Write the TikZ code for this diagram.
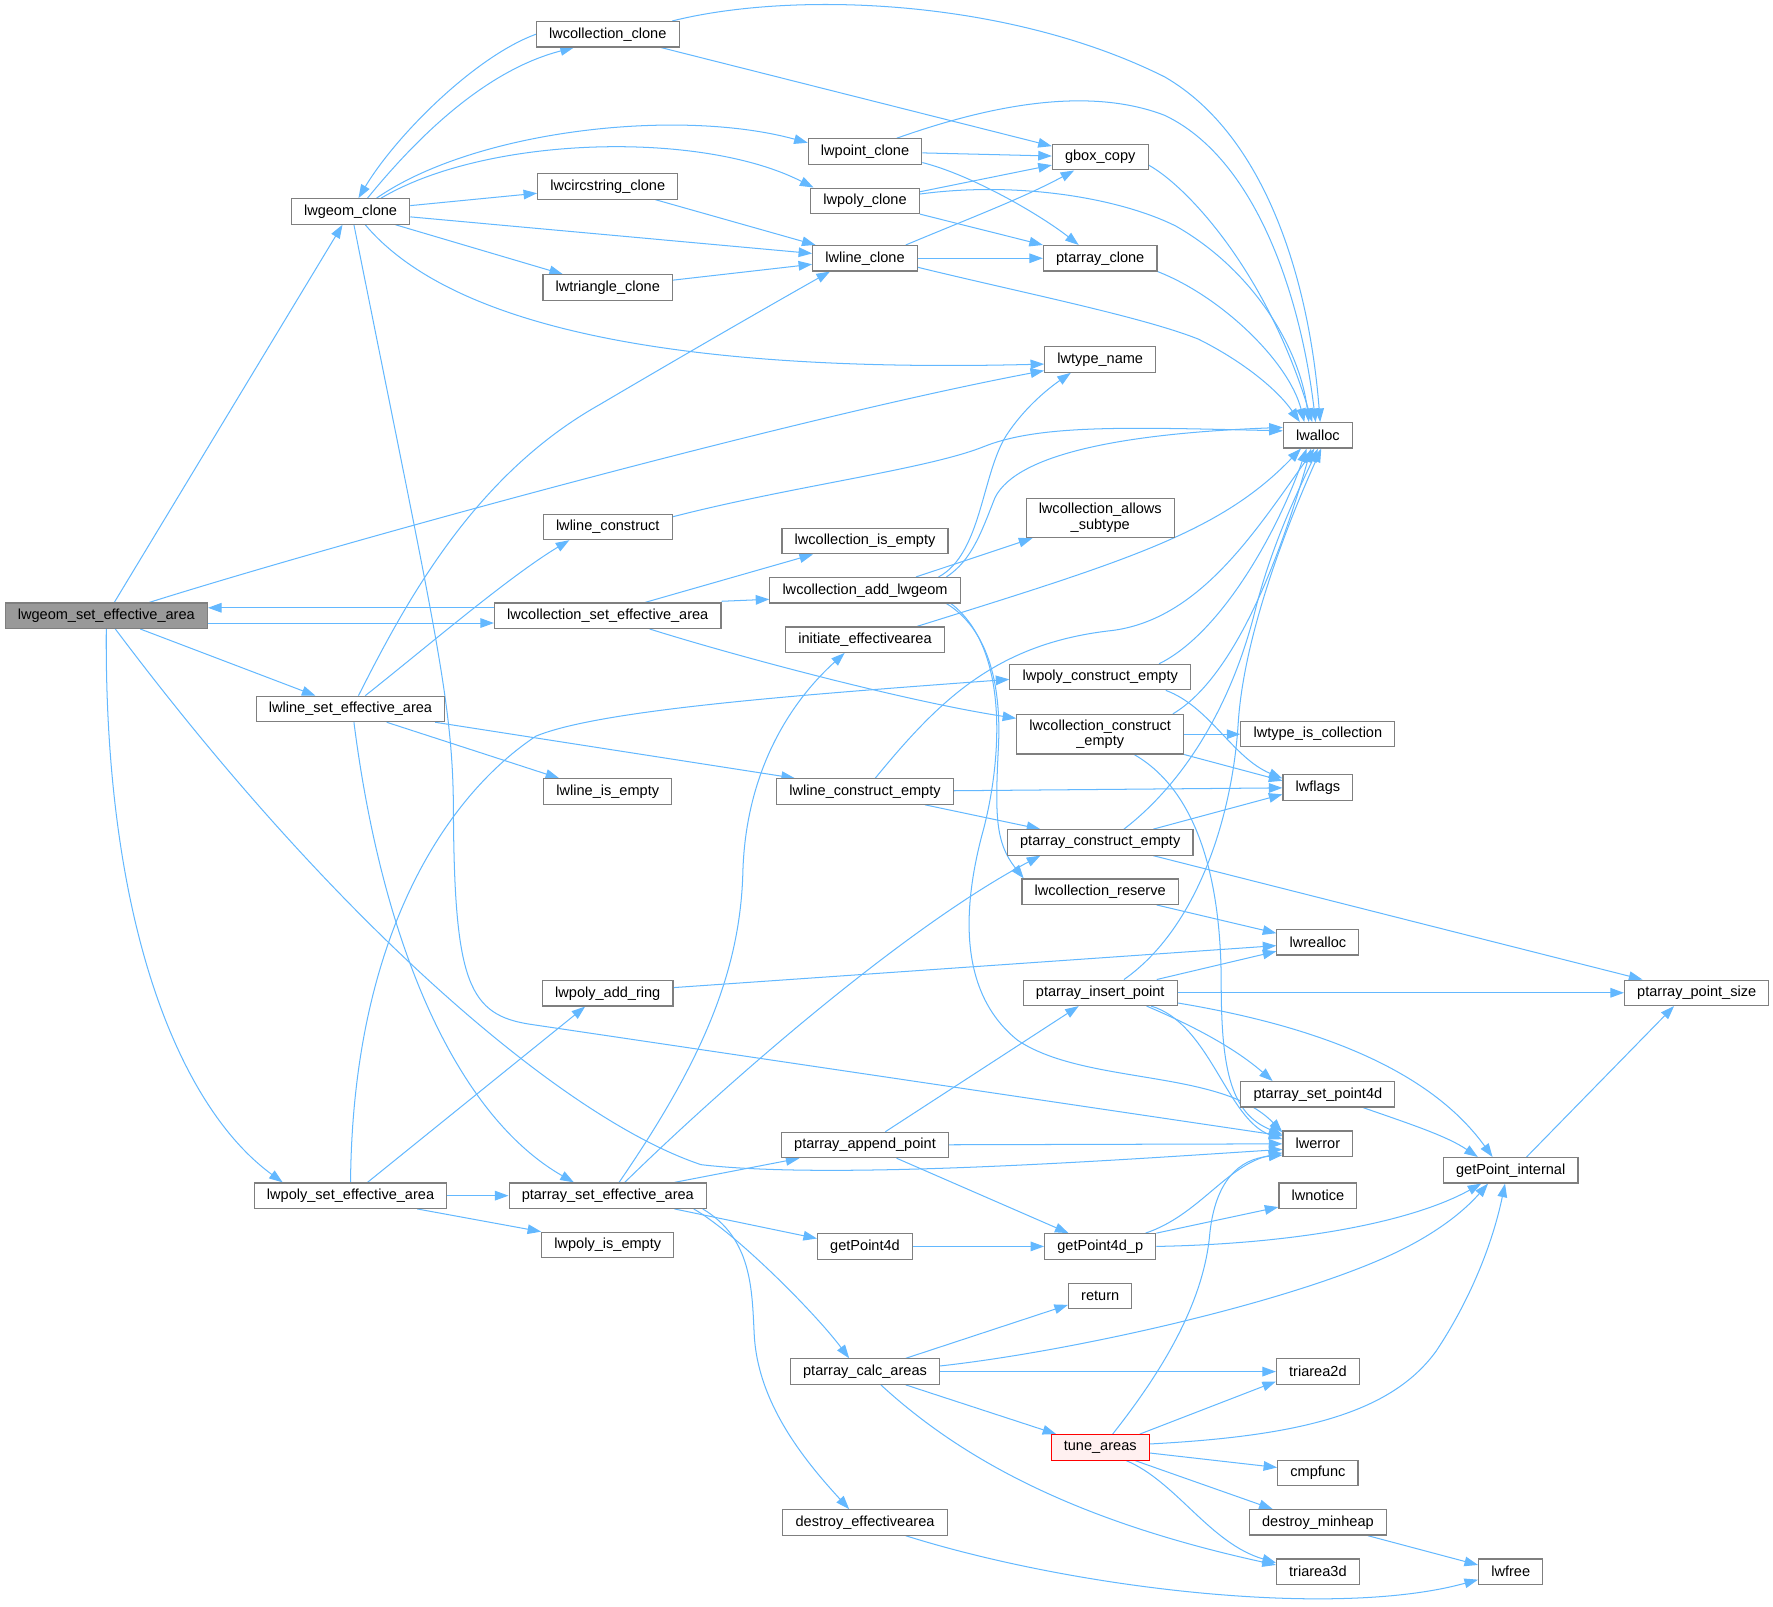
\documentclass[tikz,border=0pt]{standalone}
\usepackage{fontspec}
\setmainfont{Liberation Sans}
\usepackage{xcolor}
\definecolor{cEdge}{HTML}{63B8FF}
\definecolor{cFrame}{HTML}{7F7F7F}
\definecolor{cRoot}{HTML}{999999}
\definecolor{cHot}{HTML}{FF0000}
\definecolor{cHotFill}{HTML}{FFF0F0}
\usepackage{tikz}
\usetikzlibrary{arrows.meta,backgrounds}
\tikzset{
  node-fn/.style={draw=cFrame,line width=1pt,fill=white,inner xsep=11.2pt,inner ysep=4.5pt,
    minimum height=22.5pt,align=center,font=\fontsize{12.87}{14}\selectfont},
  node-root/.style={fill=cRoot},
  % the function that is currently expanded further elsewhere
  node-hot/.style={draw=cHot,fill=cHotFill},
  arrow/.style={-{Stealth[length=12pt,width=8.5pt,inset=0pt]},line width=0.9pt,draw=cEdge},
}

\begin{document}
\begin{tikzpicture}[x=1pt,y=-1pt]
  \useasboundingbox (0,0) rectangle (1568,1421);
  \node[node-fn,node-root] (geomSet) at (94,544.5) {lwgeom\_set\_effective\_area};
  \foreach \name/\y/\txt in {geomClone/187/lwgeom\_clone,
      lineSet/627/lwline\_set\_effective\_area, polySet/1057.4/lwpoly\_set\_effective\_area}
    \node[node-fn] (\name) at (310,\y) {\txt};
  \foreach \name/\y/\txt in {collClone/30.3/lwcollection\_clone, circClone/164.8/lwcircstring\_clone,
      triClone/254.3/lwtriangle\_clone, lineCons/466/lwline\_construct,
      collSet/544.5/lwcollection\_set\_effective\_area, lineEmpty/700/lwline\_is\_empty,
      polyRing/878.4/lwpoly\_add\_ring, paSet/1057.4/ptarray\_set\_effective\_area,
      polyEmpty/1101/lwpoly\_is\_empty}
    \node[node-fn] (\name) at (537.5,\y) {\txt};
  \foreach \name/\y/\txt in {pointClone/134/lwpoint\_clone, polyClone/177.6/lwpoly\_clone,
      lineClone/228.4/lwline\_clone, collEmpty/478.5/lwcollection\_is\_empty,
      collAdd/522/lwcollection\_add\_lwgeom, initArea/565.7/initiate\_effectivearea,
      lineConsEmpty/700/lwline\_construct\_empty, paAppend/1012.6/ptarray\_append\_point,
      gp4d/1102.3/getPoint4d, paCalc/1213/ptarray\_calc\_areas,
      destroyArea/1346.4/destroy\_effectivearea}
    \node[node-fn] (\name) at (765,\y) {\txt};
  \foreach \name/\y/\txt in {gboxCopy/139/gbox\_copy, paClone/228.4/ptarray\_clone,
      typeName/318/lwtype\_name, polyConsEmpty/598.8/lwpoly\_construct\_empty,
      paConsEmpty/745/ptarray\_construct\_empty, collReserve/788.6/lwcollection\_reserve,
      paInsert/878/ptarray\_insert\_point, gp4dp/1102.3/getPoint4d\_p, ret/1146/return}
    \node[node-fn] (\name) at (973,\y) {\txt};
  \node[node-fn] (collAllows) at (973,458) {lwcollection\_allows\\\_subtype};
  \node[node-fn] (collConsEmpty) at (973,649.3) {lwcollection\_construct\\\_empty};
  \node[node-fn,node-hot] (tune) at (973,1280) {tune\_areas};
  \foreach \name/\y/\txt in {alloc/385/lwalloc, isColl/649.3/lwtype\_is\_collection,
      flags/696.5/lwflags, realloc/833.3/lwrealloc, paSetPt/967.8/ptarray\_set\_point4d,
      err/1011.5/lwerror, notice/1057.5/lwnotice, tri2d/1213/triarea2d, cmp/1302.8/cmpfunc,
      destroyHeap/1346.3/destroy\_minheap, tri3d/1390/triarea3d}
    \node[node-fn] (\name) at (1165.5,\y) {\txt};
  \node[node-fn] (gpInt) at (1336,1035) {getPoint\_internal};
  \node[node-fn] (free) at (1336,1390) {lwfree};
  \node[node-fn] (paPtSize) at (1500.5,878) {ptarray\_point\_size};

  \begin{scope}[on background layer]
  % lwgeom_set_effective_area
  \draw[arrow] (geomSet) -- (geomClone);
  \draw[arrow] ([xshift=38pt]geomSet.north) .. controls (300,480) and (700,370) .. ([yshift=2pt]typeName.south west);
  \draw[arrow] ([yshift=-6.5pt]geomSet.east) -- ([yshift=-6.5pt]collSet.west);
  \draw[arrow] ([yshift=7pt]collSet.west) -- ([yshift=7pt]geomSet.east);
  \draw[arrow] ([xshift=30pt]geomSet.south) -- ([xshift=-31pt]lineSet.north);
  \draw[arrow] (geomSet.south) .. controls (92,820) and (160,980) .. ([xshift=-60pt]polySet.north);
  \draw[arrow] ([xshift=8pt]geomSet.south) .. controls (300,820) and (500,990) .. (620,1030)
    .. controls (740,1044) and (1000,1025) .. ([yshift=-5pt]err.west);
  % lwgeom_clone
  \draw[arrow] ([xshift=15pt]geomClone.north) .. controls (370,120) and (430,62) .. ([xshift=-30pt]collClone.south);
  \draw[arrow] (collClone.west) .. controls (420,50) and (350,120) .. ([xshift=7pt]geomClone.north);
  \draw[arrow] ([xshift=23pt]geomClone.north) .. controls (420,115) and (600,95) .. ([yshift=-4pt]pointClone.north west);
  \draw[arrow] ([xshift=27pt]geomClone.north) .. controls (430,120) and (620,115) .. ([xshift=3pt]polyClone.north west);
  \draw[arrow] (geomClone) -- (circClone);
  \draw[arrow] (geomClone) -- (lineClone);
  \draw[arrow] (geomClone) -- (triClone);
  \draw[arrow] ([xshift=13pt]geomClone.south) .. controls (400,290) and (600,330) .. ([yshift=-4pt]typeName.west);
  \draw[arrow] ([xshift=3pt]geomClone.south) .. controls (385,560) and (401,620) .. (401,720)
    .. controls (402,870) and (415,898) .. (470,906) -- ([yshift=7pt]err.west);
  % clones
  \draw[arrow] ([xshift=57pt]collClone.north) .. controls (700,-8) and (890,-2) .. (1030,68)
    .. controls (1120,120) and (1158,250) .. ([xshift=2pt]alloc.north);
  \draw[arrow] ([xshift=47pt]collClone.south) -- ([yshift=-2pt]gboxCopy.north west);
  \draw[arrow] (pointClone) -- (gboxCopy);
  \draw[arrow] ([yshift=2pt]pointClone.south east) .. controls (860,155) and (920,190) .. ([xshift=-19pt]paClone.north);
  \draw[arrow] ([xshift=28pt]pointClone.north) .. controls (870,95) and (960,75) .. (1030,102)
    .. controls (1110,140) and (1150,260) .. ([xshift=-2pt]alloc.north);
  \draw[arrow] ([xshift=42pt]circClone.south) -- ([xshift=3pt]lineClone.north west);
  \draw[arrow] (triClone) -- (lineClone);
  \draw[arrow] ([yshift=8pt]polyClone.east) -- ([yshift=-7pt]gboxCopy.west);
  \draw[arrow] ([yshift=6pt]polyClone.east) .. controls (900,160) and (990,175) .. (1040,200)
    .. controls (1110,240) and (1150,310) .. ([xshift=-8pt]alloc.north);
  \draw[arrow] (polyClone.south east) -- (paClone.north west);
  \draw[arrow] ([xshift=36pt]lineClone.north) .. controls (860,192) and (905,175) .. ([xshift=-23pt]gboxCopy.south);
  \draw[arrow] (lineClone) -- (paClone);
  \draw[arrow] ([yshift=-8pt]lineClone.east) .. controls (900,258) and (1010,280) .. (1060,300)
    .. controls (1100,320) and (1130,345) .. ([xshift=-16pt]alloc.north);
  \draw[arrow] ([yshift=-7pt]gboxCopy.east) .. controls (1050,165) and (1120,240) .. ([xshift=-5pt]alloc.north);
  \draw[arrow] (paClone.south east) .. controls (1080,262) and (1140,320) .. ([xshift=-12pt]alloc.north);
  \draw[arrow] ([yshift=9pt]lineCons.east) .. controls (700,430) and (820,415) .. (870,395)
    .. controls (920,375) and (1000,378) .. ([yshift=4pt]alloc.west);
  % lwcollection_set_effective_area
  \draw[arrow] ([xshift=33pt]collSet.north) -- ([xshift=-46pt]collEmpty.south);
  \draw[arrow] ([yshift=1pt]collSet.north east) -- ([yshift=-8pt]collAdd.west);
  \draw[arrow] ([xshift=37pt]collSet.south) .. controls (650,580) and (800,620) .. ([yshift=-4pt]collConsEmpty.north west);
  \draw[arrow] ([xshift=45pt]collAdd.north) -- ([xshift=-60pt]collAllows.south);
  \draw[arrow] ([xshift=65pt]collAdd.north) .. controls (868,490) and (868,420) .. (890,385)
    .. controls (905,362) and (925,345) .. ([xshift=-26pt]typeName.south);
  \draw[arrow] ([xshift=72pt]collAdd.north) .. controls (860,495) and (868,470) .. (880,440)
    .. controls (900,400) and (1000,383) .. ([yshift=7pt]alloc.west);
  \draw[arrow] ([xshift=72pt]collAdd.south) .. controls (880,560) and (885,620) .. (883,660)
    .. controls (880,720) and (880,745) .. ([xshift=2pt]collReserve.north west);
  \draw[arrow] ([xshift=76pt]collAdd.south) .. controls (895,575) and (885,680) .. (868,740)
    .. controls (850,810) and (850,880) .. (900,920) .. controls (960,960) and (1080,945) .. ([yshift=10pt]err.west);
  \draw[arrow] ([xshift=46pt]initArea.north) .. controls (1000,495) and (1080,470) .. ([xshift=-15pt]alloc.south);
  % constructors
  \draw[arrow] ([xshift=52pt]polyConsEmpty.north) .. controls (1080,560) and (1130,470) .. ([xshift=-10pt]alloc.south);
  \draw[arrow] ([xshift=58pt]polyConsEmpty.south) .. controls (1070,625) and (1090,670) .. ([yshift=8pt]flags.west);
  \draw[arrow] ([xshift=-10pt]collConsEmpty.north east) .. controls (1090,600) and (1130,500) .. ([xshift=-6pt]alloc.south);
  \draw[arrow] (collConsEmpty) -- (isColl);
  \draw[arrow] (collConsEmpty.south east) -- ([yshift=6pt]flags.west);
  \draw[arrow] ([xshift=30pt]collConsEmpty.south) .. controls (1060,700) and (1080,780) .. (1080,870)
    .. controls (1080,950) and (1090,985) .. ([yshift=8pt]err.west);
  % lwline_set_effective_area
  \draw[arrow] ([xshift=13pt]lineSet.north) .. controls (380,570) and (450,510) .. ([xshift=-34pt]lineCons.south);
  \draw[arrow] ([xshift=7pt]lineSet.north) .. controls (360,530) and (420,420) .. (530,358)
    .. controls (620,305) and (690,265) .. ([xshift=-31pt]lineClone.south);
  \draw[arrow] ([xshift=-9pt]lineSet.south east) -- ([xshift=-62pt]lineConsEmpty.north);
  \draw[arrow] ([xshift=32pt]lineSet.south) -- ([xshift=-43pt]lineEmpty.north);
  \draw[arrow] ([xshift=3pt]lineSet.south) .. controls (340,850) and (410,990) .. ([xshift=-30pt]paSet.north);
  \draw[arrow] ([xshift=9pt]lineConsEmpty.north) .. controls (830,620) and (880,570) .. (980,558)
    .. controls (1060,550) and (1110,470) .. ([xshift=-3pt]alloc.south);
  \draw[arrow] (lineConsEmpty) -- (flags);
  \draw[arrow] ([xshift=53pt]lineConsEmpty.south) -- ([xshift=-53pt]paConsEmpty.north);
  \draw[arrow] ([xshift=21pt]paConsEmpty.north) .. controls (1050,690) and (1090,620) .. (1110,540)
    .. controls (1125,480) and (1150,430) .. (alloc.south);
  \draw[arrow] ([xshift=47pt]paConsEmpty.north) -- ([yshift=-6pt]flags.west);
  \draw[arrow] ([xshift=47pt]paConsEmpty.south) -- ([xshift=-48pt]paPtSize.north);
  \draw[arrow] ([xshift=50pt]collReserve.south) -- ([yshift=8pt]realloc.west);
  \draw[arrow] ([yshift=5pt]polyRing.east) -- ([yshift=-3pt]realloc.west);
  % ptarray_insert_point
  \draw[arrow] ([xshift=21pt]paInsert.north) .. controls (1060,820) and (1090,720) .. (1095,640)
    .. controls (1100,560) and (1140,460) .. ([xshift=3pt]alloc.south);
  \draw[arrow] ([xshift=50pt]paInsert.north) -- ([yshift=-8pt]realloc.west);
  \draw[arrow] (paInsert) -- (paPtSize);
  \draw[arrow] ([xshift=41pt]paInsert.south) .. controls (1050,905) and (1090,925) .. ([xshift=-40pt]paSetPt.north);
  \draw[arrow] ([xshift=45pt]paInsert.south) .. controls (1070,905) and (1085,990) .. ([yshift=4pt]err.west);
  \draw[arrow] ([yshift=-9pt]paInsert.east) .. controls (1150,905) and (1260,940) .. ([xshift=-16pt]gpInt.north);
  \draw[arrow] ([xshift=40pt]paSetPt.south) .. controls (1250,995) and (1280,1005) .. ([xshift=-29pt]gpInt.north);
  \draw[arrow] ([xshift=14pt]gpInt.north) -- ([xshift=-20pt]paPtSize.south);
  % lwpoly_set_effective_area
  \draw[arrow] (polySet.north) .. controls (312,820) and (400,700) .. (474,651)
    .. controls (530,628) and (700,615) .. ([yshift=-2pt]polyConsEmpty.west);
  \draw[arrow] ([xshift=15pt]polySet.north) -- ([xshift=-20pt]polyRing.south);
  \draw[arrow] (polySet) -- (paSet);
  \draw[arrow] ([xshift=59pt]polySet.south) -- (polyEmpty.north west);
  % ptarray_set_effective_area
  \draw[arrow] ([xshift=10pt]paSet.north) .. controls (620,940) and (655,860) .. (657,770)
    .. controls (660,680) and (700,620) .. ([xshift=-18pt]initArea.south);
  \draw[arrow] ([xshift=15pt]paSet.north) .. controls (640,960) and (800,820) .. ([xshift=-53pt]paConsEmpty.south);
  \draw[arrow] ([xshift=59pt]paSet.north) -- ([xshift=-58pt]paAppend.south);
  \draw[arrow] ([xshift=59pt]paSet.south) -- ([yshift=7pt]gp4d.west);
  \draw[arrow] ([xshift=76pt]paSet.south) .. controls (650,1090) and (720,1160) .. ([xshift=-14pt]paCalc.north);
  \draw[arrow] ([xshift=84pt]paSet.south) .. controls (665,1095) and (665,1140) .. (667,1180)
    .. controls (670,1240) and (710,1290) .. ([xshift=-14pt]destroyArea.north);
  \draw[arrow] ([xshift=18pt]paAppend.north) -- ([xshift=-19pt]paInsert.south);
  \draw[arrow] (paAppend) -- (err);
  \draw[arrow] ([xshift=28pt]paAppend.south) -- ([xshift=-28pt]gp4dp.north);
  \draw[arrow] (gp4d) -- (gp4dp);
  \draw[arrow] ([xshift=40pt]gp4dp.north) .. controls (1060,1075) and (1085,1030) .. ([yshift=-8pt]err.west);
  \draw[arrow] (gp4dp.north east) -- ([yshift=-10pt]notice.west);
  \draw[arrow] (gp4dp.east) .. controls (1150,1100) and (1250,1080) .. ([xshift=-26pt]gpInt.south);
  % ptarray_calc_areas
  \draw[arrow] ([xshift=36pt]paCalc.north) -- ([yshift=-8pt]ret.west);
  \draw[arrow] ([yshift=5pt]paCalc.east) .. controls (950,1195) and (1150,1150) .. (1240,1105)
    .. controls (1280,1085) and (1300,1065) .. ([xshift=-20pt]gpInt.south);
  \draw[arrow] (paCalc) -- (tri2d);
  \draw[arrow] ([xshift=36pt]paCalc.south) -- ([xshift=5pt]tune.north west);
  \draw[arrow] ([xshift=14pt]paCalc.south) .. controls (850,1290) and (950,1345) .. ([yshift=6pt]tri3d.west);
  % tune_areas
  \draw[arrow] ([xshift=11pt]tune.north) .. controls (1030,1210) and (1065,1150) .. (1070,1090)
    .. controls (1075,1045) and (1095,1025) .. ([yshift=-10pt]err.west);
  \draw[arrow] ([xshift=35pt]tune.north) -- ([yshift=3pt]tri2d.south west);
  \draw[arrow] ([yshift=3pt]tune.east) .. controls (1150,1270) and (1230,1250) .. (1270,1195)
    .. controls (1300,1150) and (1320,1100) .. ([xshift=-5pt]gpInt.south);
  \draw[arrow] ([yshift=-5pt]tune.east) -- ([yshift=5pt]cmp.west);
  \draw[arrow] ([xshift=31pt]tune.south) -- ([xshift=-40pt]destroyHeap.north);
  \draw[arrow] ([xshift=23pt]tune.south) .. controls (1040,1310) and (1070,1365) .. ([yshift=8pt]tri3d.west);
  \draw[arrow] ([xshift=36pt]destroyArea.south) .. controls (950,1405) and (1180,1432) .. ([yshift=-7pt]free.west);
  \draw[arrow] ([xshift=44pt]destroyHeap.south) -- ([yshift=6pt]free.west);
  \end{scope}
\end{tikzpicture}
\end{document}
